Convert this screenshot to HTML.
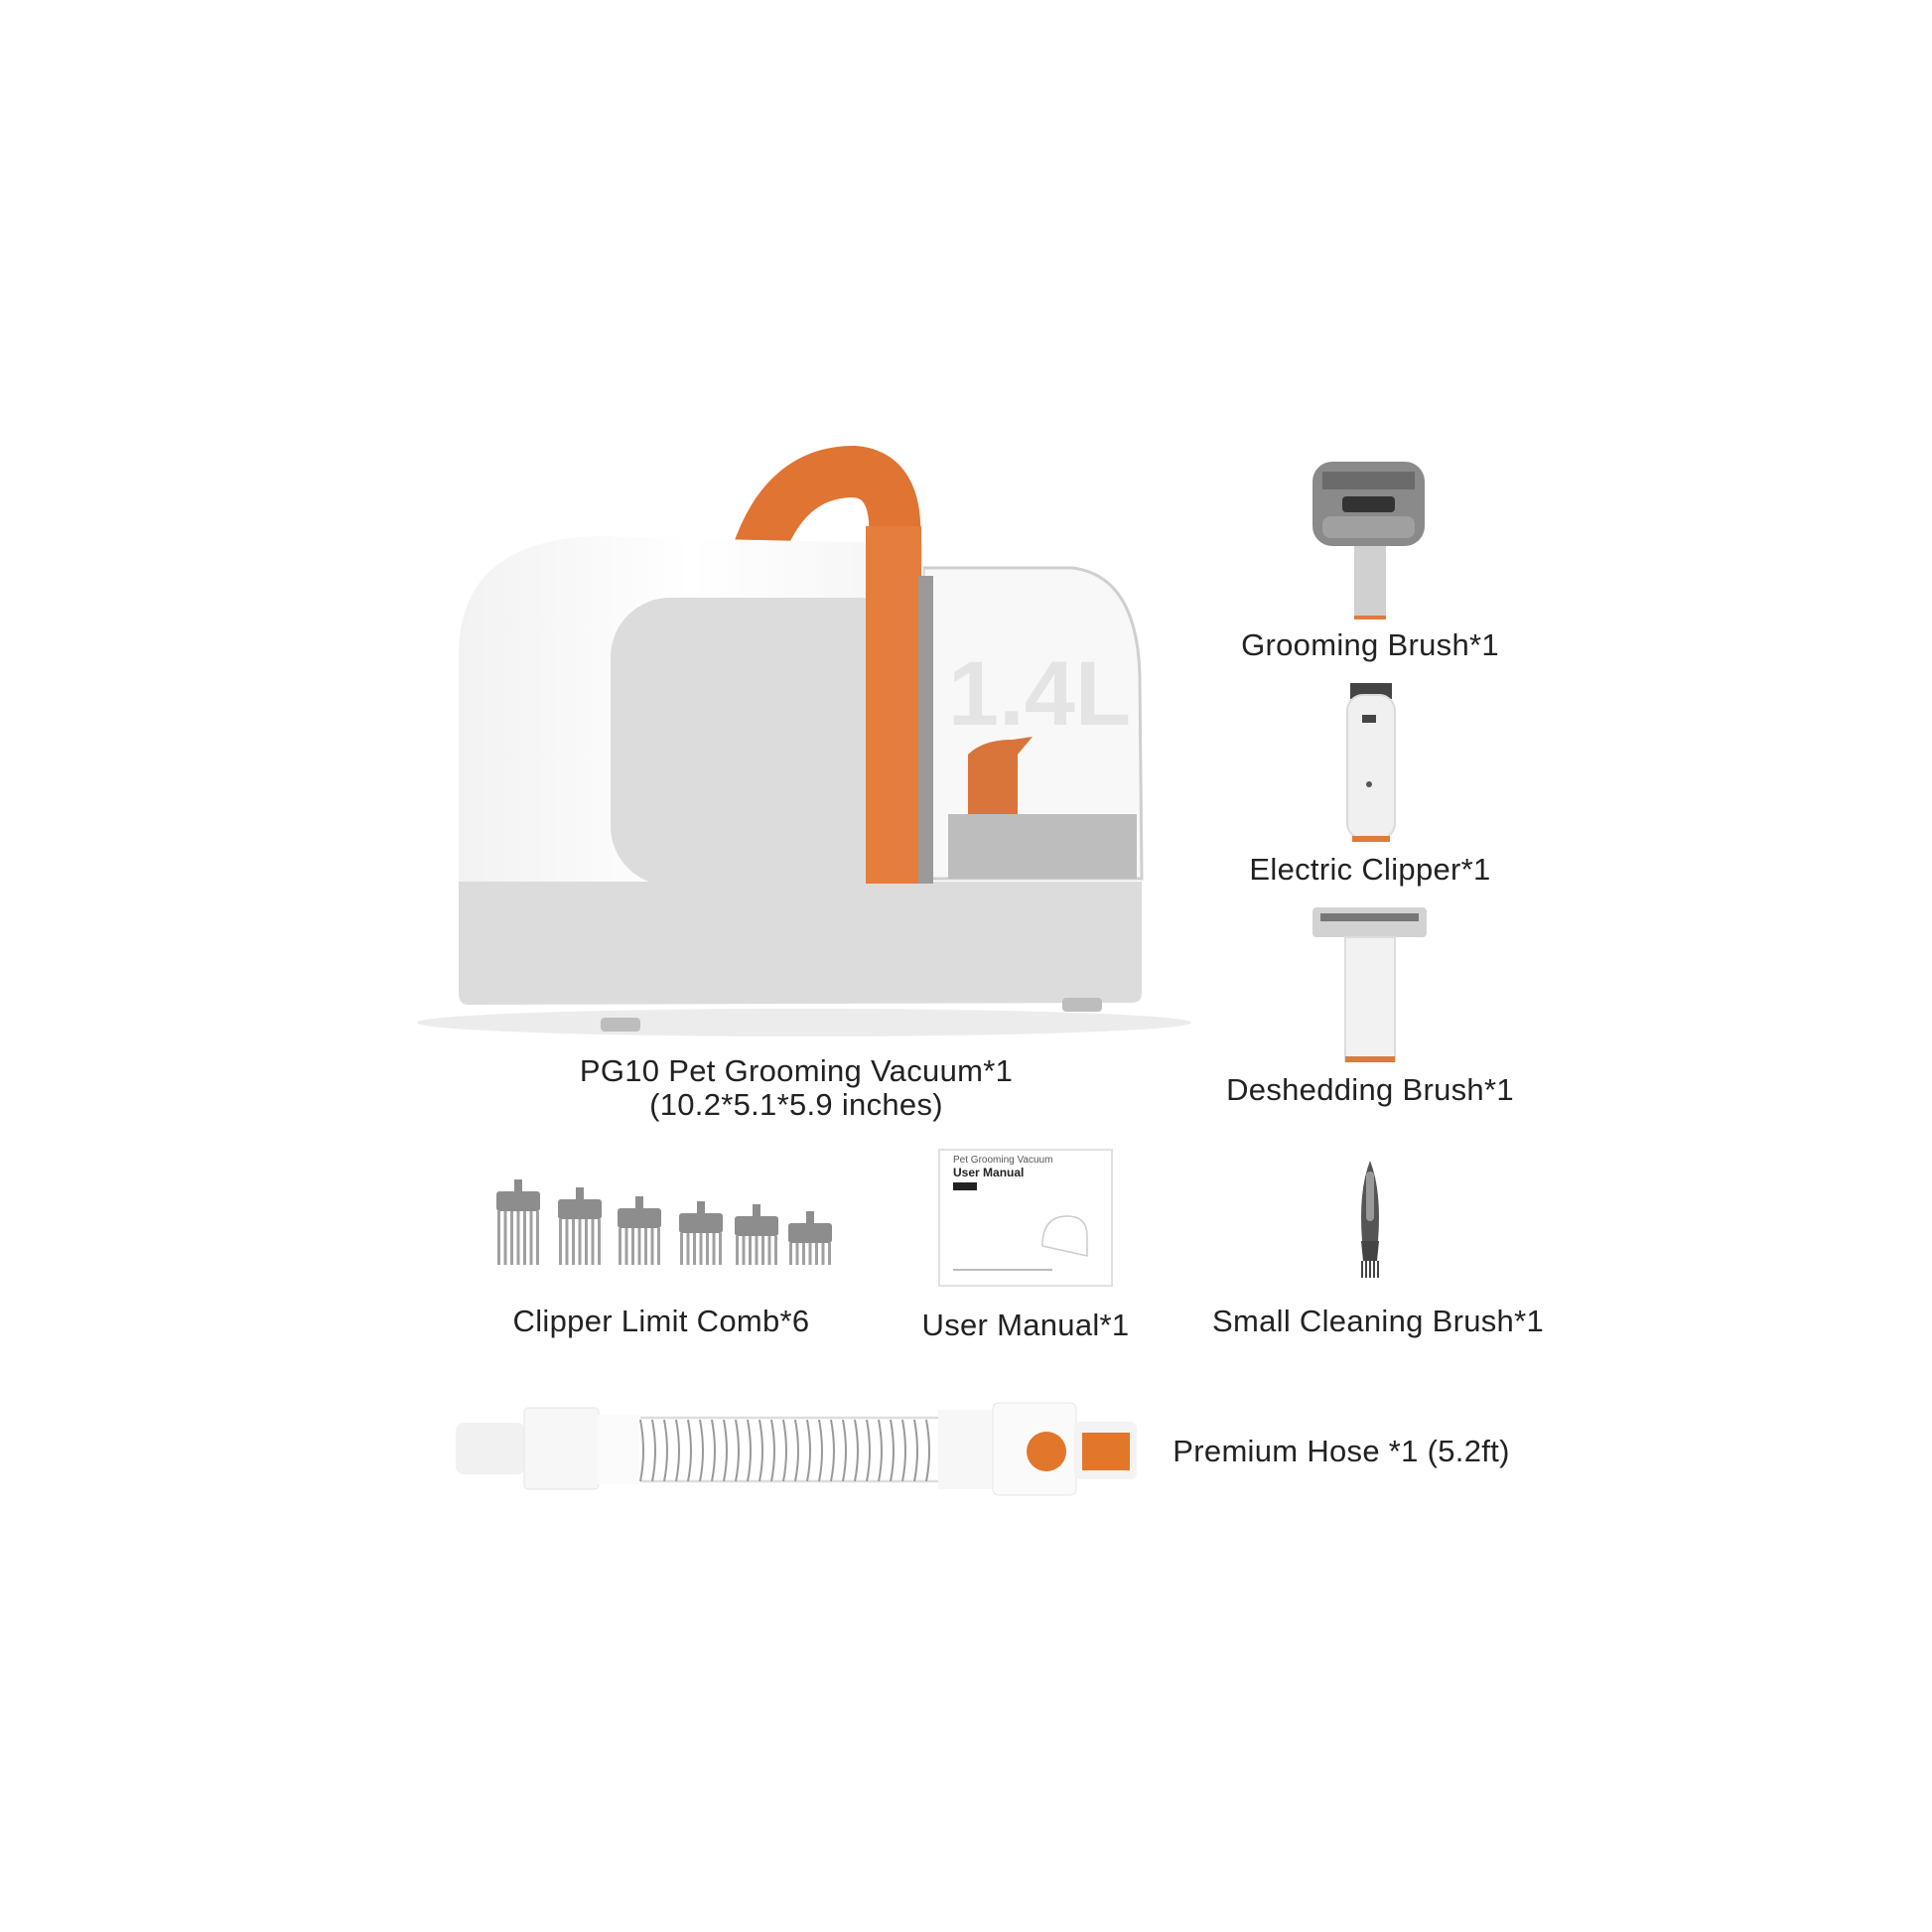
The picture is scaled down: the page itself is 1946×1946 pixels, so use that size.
<!DOCTYPE html>
<html><head><meta charset="utf-8"><style>
html,body{margin:0;padding:0;background:#fff}
#c{position:relative;width:1946px;height:1946px;overflow:hidden;background:#fff;font-family:"Liberation Sans",sans-serif;color:#222}
.t{position:absolute;font-size:31px;white-space:nowrap;transform:translateX(-50%);letter-spacing:0.3px}
svg{position:absolute;left:0;top:0}
</style></head><body><div id="c">
<svg width="1946" height="1946" viewBox="0 0 1946 1946">
<defs>
<linearGradient id="bw" x1="0" y1="0" x2="1" y2="0"><stop offset="0" stop-color="#f2f2f2"/><stop offset="0.5" stop-color="#ffffff"/><stop offset="1" stop-color="#f4f4f4"/></linearGradient>
</defs>
<ellipse cx="810" cy="1030" rx="390" ry="14" fill="#ececec"/>
<!-- clear compartment -->
<path d="M930 572 L1080 572 Q1145 580 1148 680 L1150 885 L930 885 Z" fill="#f8f8f8" stroke="#cfcfcf" stroke-width="3"/>
<text x="955" y="730" font-family="Liberation Sans" font-weight="bold" font-size="92" fill="#e4e4e4">1.4L</text>
<rect x="955" y="820" width="190" height="65" fill="#bdbdbd"/>
<path d="M975 820 L975 760 Q990 745 1020 745 L1040 742 L1025 760 L1025 820 Z" fill="#d9743a"/>
<!-- handle back arc -->
<path d="M762 560 Q790 475 860 475 Q905 478 901 545" fill="none" stroke="#e07433" stroke-width="52"/>
<!-- main white body -->
<path d="M462 890 L462 660 Q462 545 600 540 L930 548 L930 890 Z" fill="url(#bw)"/>
<rect x="615" y="602" width="310" height="290" rx="60" fill="#dcdcdc"/>
<path d="M462 888 L1150 888 L1150 1000 Q1150 1010 1140 1010 L472 1012 Q462 1012 462 1000 Z" fill="#dcdcdc"/>
<rect x="605" y="1025" width="40" height="14" rx="4" fill="#bdbdbd"/>
<rect x="1070" y="1005" width="40" height="14" rx="4" fill="#bdbdbd"/>
<!-- handle front leg -->
<rect x="872" y="530" width="56" height="360" fill="#e57d3d"/>
<rect x="925" y="580" width="15" height="310" fill="#9a9a9a"/>
<!-- grooming brush -->
<rect x="1322" y="465" width="113" height="85" rx="20" fill="#8a8a8a"/>
<rect x="1332" y="475" width="93" height="18" fill="#6b6b6b"/>
<rect x="1352" y="500" width="53" height="16" rx="4" fill="#333"/>
<rect x="1332" y="520" width="93" height="22" rx="8" fill="#a0a0a0"/>
<rect x="1364" y="550" width="32" height="74" fill="#d0d0d0"/>
<rect x="1364" y="620" width="32" height="4" fill="#e07a3c"/>
<!-- clipper -->
<rect x="1360" y="688" width="42" height="16" fill="#444"/>
<rect x="1357" y="700" width="48" height="145" rx="16" fill="#f0f0f0" stroke="#dadada" stroke-width="2"/>
<rect x="1372" y="720" width="14" height="8" fill="#444"/>
<circle cx="1379" cy="790" r="3" fill="#555"/>
<rect x="1362" y="842" width="38" height="6" fill="#e07a3c"/>
<!-- deshedding -->
<rect x="1322" y="914" width="115" height="30" rx="4" fill="#d2d2d2"/>
<rect x="1330" y="920" width="99" height="8" fill="#777"/>
<rect x="1355" y="944" width="50" height="125" fill="#f2f2f2" stroke="#dcdcdc" stroke-width="2"/>
<rect x="1355" y="1064" width="50" height="6" fill="#e07a3c"/>
<!-- combs -->
<g id="combs"></g>
<!-- manual -->
<rect x="946" y="1158" width="174" height="137" fill="#fff" stroke="#e0e0e0" stroke-width="2"/>
<text x="960" y="1171" font-size="10" fill="#555">Pet Grooming Vacuum</text>
<text x="960" y="1185" font-size="12" font-weight="bold" fill="#222">User Manual</text>
<rect x="960" y="1191" width="24" height="8" fill="#222"/>
<path d="M1050 1255 q0-30 25-30 q20 0 20 20 l0 20 z" fill="none" stroke="#ccc" stroke-width="1.5"/>
<rect x="960" y="1278" width="100" height="2" fill="#bbb"/>
<!-- small brush -->
<path d="M1380 1169 Q1392 1200 1388 1250 L1372 1250 Q1368 1200 1380 1169 Z" fill="#555"/>
<rect x="1376" y="1180" width="8" height="50" rx="4" fill="#999"/>
<path d="M1371 1250 h18 l-2 20 h-14 z" fill="#444"/>
<path d="M1372 1270 v17 M1376 1270 v17 M1380 1270 v17 M1384 1270 v17 M1388 1270 v17" stroke="#444" stroke-width="2"/>
<!-- hose -->
<rect x="459" y="1433" width="70" height="52" rx="8" fill="#f1f1f1"/>
<rect x="528" y="1418" width="75" height="82" rx="4" fill="#f7f7f7" stroke="#e6e6e6"/>
<rect x="602" y="1425" width="42" height="70" fill="#fbfbfb"/>
<path d="M645 1428 h300 M645 1492 h300" stroke="#ddd" stroke-width="2.5"/>
<g id="sp" stroke="#999" stroke-width="2" fill="none"></g>
<rect x="945" y="1420" width="60" height="80" fill="#f7f7f7"/>
<rect x="1000" y="1413" width="84" height="93" rx="6" fill="#fafafa" stroke="#e6e6e6"/>
<circle cx="1054" cy="1462" r="20" fill="#e2762a"/>
<rect x="1082" y="1432" width="63" height="58" rx="6" fill="#f3f3f3"/>
<rect x="1090" y="1443" width="48" height="38" fill="#e2762a"/>
</svg>
<div class="t" style="left:802px;top:1062px;line-height:34px;text-align:center">PG10 Pet Grooming Vacuum*1<br>(10.2*5.1*5.9 inches)</div>
<div class="t" style="left:1380px;top:632px">Grooming Brush*1</div>
<div class="t" style="left:1380px;top:858px">Electric Clipper*1</div>
<div class="t" style="left:1380px;top:1080px">Deshedding Brush*1</div>
<div class="t" style="left:666px;top:1313px">Clipper Limit Comb*6</div>
<div class="t" style="left:1033px;top:1317px">User Manual*1</div>
<div class="t" style="left:1388px;top:1313px">Small Cleaning Brush*1</div>
<div class="t" style="left:1351px;top:1444px">Premium Hose *1 (5.2ft)</div>
<script>
var g=document.getElementById('sp'),s='';
for(var x=645;x<945;x+=12){s+='<path d="M'+x+' 1430 q6 32 0 62"/>';}
g.innerHTML=s;
var cm=[[498,1188,86],[560,1196,78],[620,1205,69],[682,1210,64],[738,1213,61],[792,1220,54]],h='';
cm.forEach(function(c){var x=c[0],y=c[1],H=c[2];
h+='<rect x="'+(x+20)+'" y="'+y+'" width="8" height="14" fill="#8d8d8d"/>';
h+='<rect x="'+(x+2)+'" y="'+(y+12)+'" width="44" height="20" rx="3" fill="#8d8d8d"/>';
for(var i=0;i<7;i++){h+='<rect x="'+(x+3+i*6.5)+'" y="'+(y+32)+'" width="3" height="'+(H-32)+'" fill="#a0a0a0"/>';}
});
document.getElementById('combs').innerHTML=h;
</script>
</div></body></html>
